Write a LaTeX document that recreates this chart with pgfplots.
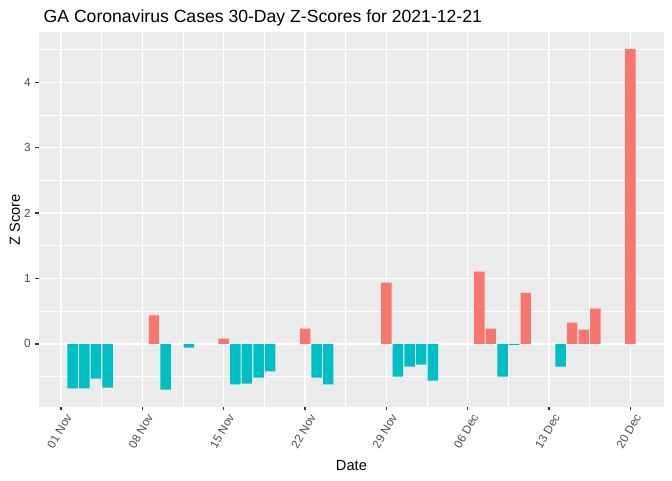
\documentclass[border=0pt]{standalone}
\usepackage{pgfplots}
\pgfplotsset{compat=1.18}
\usepackage{fontspec}
\setmainfont{Liberation Sans}
\definecolor{ggred}{HTML}{F8766D}
\definecolor{ggteal}{HTML}{00BFC4}
\definecolor{ggbg}{HTML}{EBEBEB}
\definecolor{ggtick}{HTML}{333333}
\definecolor{ggtext}{HTML}{4D4D4D}
\begin{document}
\begin{tikzpicture}
\useasboundingbox (0,0) rectangle (504pt,360pt);
\begin{axis}[
  at={(29.25pt,54.98pt)}, anchor=south west,
  scale only axis, width=468.75pt, height=281pt,
  xmin=-1.9, xmax=51.9, ymin=-0.96, ymax=4.77,
  axis background/.style={fill=ggbg},
  axis line style={draw=none},
  xtick pos=bottom, ytick pos=left,
  xtick={0,7,14,21,28,35,42,49},
  xticklabels={01 Nov,08 Nov,15 Nov,22 Nov,29 Nov,06 Dec,13 Dec,20 Dec},
  ytick={0,1,2,3,4}, yticklabels={0,1,2,3,4},
  minor xtick={3.5,10.5,17.5,24.5,31.5,38.5,45.5},
  minor ytick={-0.5,0.5,1.5,2.5,3.5,4.5},
  grid=both,
  major grid style={white, line width=1.07pt},
  minor grid style={white, line width=0.53pt},
  tick align=outside, major tick length=2.75pt, minor tick length=0pt,
  major tick style={ggtick, line width=1.07pt},
  xticklabel style={rotate=60, anchor=north east, inner sep=0pt, yshift=-3.5pt, font=\fontsize{8.8}{10}\selectfont, text=ggtext},
  yticklabel style={font=\fontsize{8.8}{10}\selectfont, text=ggtext},
  clip=false,
]
\addplot[ybar, bar width=0.9, bar shift=0pt, fill=ggteal, draw=none] coordinates {
(1,-0.68) (2,-0.68) (3,-0.53) (4,-0.667) (9,-0.70) (11,-0.056)
(15,-0.62) (16,-0.606) (17,-0.515) (18,-0.42) (22,-0.515) (23,-0.62)
(29,-0.50) (30,-0.347) (31,-0.316) (32,-0.56) (38,-0.50) (39,-0.015) (43,-0.347)
};
\addplot[ybar, bar width=0.9, bar shift=0pt, fill=ggred, draw=none] coordinates {
(8,0.437) (14,0.08) (21,0.234) (28,0.936) (36,1.104) (37,0.234) (40,0.78)
(44,0.325) (45,0.218) (46,0.539) (49,4.51)
};
\end{axis}
\node[anchor=base west, font=\fontsize{13.2}{15}\selectfont] at (29.25pt,343.5pt) {GA Coronavirus Cases 30-Day Z-Scores for 2021-12-21};
\node[anchor=base, font=\fontsize{11}{13}\selectfont] at (263.6pt,7.5pt) {Date};
\node[anchor=base, rotate=90, font=\fontsize{11}{13}\selectfont] at (15pt,195pt) {Z Score};
\end{tikzpicture}
\end{document}
